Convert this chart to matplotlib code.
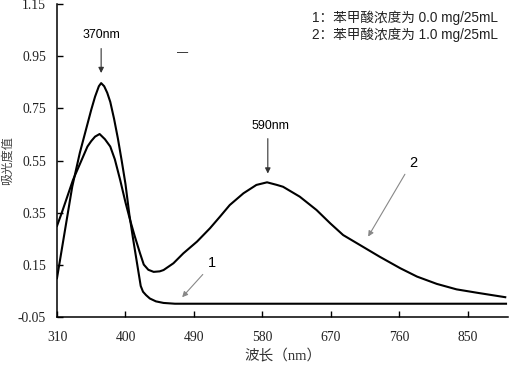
import matplotlib
matplotlib.use("Agg")
import matplotlib.pyplot as plt

# Curve 1: 苯甲酸浓度为 0.0 mg/25mL
wl_1 = [310, 320, 330, 340, 350, 355, 360, 365, 368, 372, 376, 380, 385, 390, 395,
        400, 405, 410, 415, 420, 423, 427, 432, 440, 450, 465, 500, 600, 700, 800, 900]
abs_1 = [0.10, 0.275, 0.45, 0.58, 0.69, 0.745, 0.795, 0.835, 0.847, 0.835, 0.81, 0.775,
         0.71, 0.635, 0.55, 0.46, 0.345, 0.25, 0.16, 0.07, 0.048, 0.035, 0.022, 0.011,
         0.005, 0.002, 0.002, 0.002, 0.002, 0.002, 0.002]

# Curve 2: 苯甲酸浓度为 1.0 mg/25mL
wl_2 = [310, 316, 331, 342, 350, 355, 360, 366, 373, 380, 386, 393, 400, 406, 412,
        419, 424, 430, 437, 445, 450, 463, 476, 494, 511, 524, 537, 555, 572, 586,
        599, 607, 629, 651, 669, 686, 708, 734, 761, 783, 809, 835, 862, 899]
abs_2 = [0.30, 0.348, 0.476, 0.55, 0.604, 0.625, 0.642, 0.652, 0.632, 0.604, 0.555,
         0.476, 0.39, 0.323, 0.262, 0.196, 0.152, 0.132, 0.124, 0.126, 0.131, 0.157,
         0.195, 0.24, 0.291, 0.335, 0.38, 0.425, 0.457, 0.467, 0.457, 0.45, 0.412,
         0.361, 0.31, 0.265, 0.227, 0.182, 0.138, 0.106, 0.078, 0.057, 0.044, 0.027]

x_ticks = [310, 400, 490, 580, 670, 760, 850]
y_ticks = [-0.05, 0.15, 0.35, 0.55, 0.75, 0.95, 1.15]
y_tick_labels = ["-0.05", "0.15", "0.35", "0.55", "0.75", "0.95", "1.15"]

legend_lines = ["1：苯甲酸浓度为 0.0 mg/25mL", "2：苯甲酸浓度为 1.0 mg/25mL"]

fig = plt.figure(figsize=(5.12, 3.68), dpi=100)
ax = fig.add_axes([57/512, 1-317.3/368, (508.3-57)/512, (317.3-4)/368])

ax.plot(wl_1, abs_1, color="black", lw=1.5, solid_joinstyle="round")
ax.plot(wl_2, abs_2, color="black", lw=1.5, solid_joinstyle="round")

ax.set_xlim(310, 903)
ax.set_ylim(-0.05, 1.15)
ax.set_xticks(x_ticks)
ax.set_yticks(y_ticks)
ax.set_yticklabels(y_tick_labels)
for s in ["top", "right"]:
    ax.spines[s].set_visible(False)
for s in ["left", "bottom"]:
    ax.spines[s].set_linewidth(1.1)
ax.tick_params(direction="in", length=4, width=1.0, labelsize=9.8)
ax.tick_params(axis="x", pad=10)
ax.tick_params(axis="y", pad=8)
for lab in ax.get_xticklabels() + ax.get_yticklabels():
    lab.set_fontfamily("Liberation Serif")
    lab.set_color("#222222")

ax.set_xlabel("波长（nm）", family=["Liberation Serif", "Noto Sans CJK SC"],
              fontsize=10.5, color="#333333")
ax.xaxis.set_label_coords(0.5, -0.103)
ax.set_ylabel("吸光度值", family=["Noto Sans CJK SC"], fontsize=8.8,
              color="#444444")
ax.yaxis.set_label_coords(-0.096, 0.5)

sans = ["Liberation Sans", "Noto Sans CJK SC"]
ax.text(0.565, 0.98, legend_lines[0] + "\n" + legend_lines[1], transform=ax.transAxes,
        ha="left", va="top", fontsize=9.8, family=sans, color="#222222",
        linespacing=1.25)

# peak annotations
ax.annotate("", xy=(368, 0.875), xytext=(368, 0.99),
            arrowprops=dict(arrowstyle="-|>", color="#333333", lw=0.8, mutation_scale=8))
ax.text(368, 1.03, "370nm", ha="center", va="center", fontsize=8.9, family=sans)
ax.annotate("", xy=(587, 0.49), xytext=(587, 0.645),
            arrowprops=dict(arrowstyle="-|>", color="#333333", lw=0.8, mutation_scale=8))
ax.text(591, 0.682, "590nm", ha="center", va="center", fontsize=8.9, family=sans)

# curve labels
ax.annotate("", xy=(472, 0.019), xytext=(504, 0.122),
            arrowprops=dict(arrowstyle="-|>", color="#888888", lw=0.8, mutation_scale=8))
ax.text(514, 0.157, "1", ha="center", va="center", fontsize=10.5, family=sans)
ax.annotate("", xy=(717, 0.25), xytext=(769, 0.507),
            arrowprops=dict(arrowstyle="-|>", color="#888888", lw=0.8, mutation_scale=8))
ax.text(778, 0.54, "2", ha="center", va="center", fontsize=10.5, family=sans)

ax.text(475, 0.965, "—", ha="center", va="center", fontsize=8, family=sans)

fig.savefig("out.png", dpi=100)
